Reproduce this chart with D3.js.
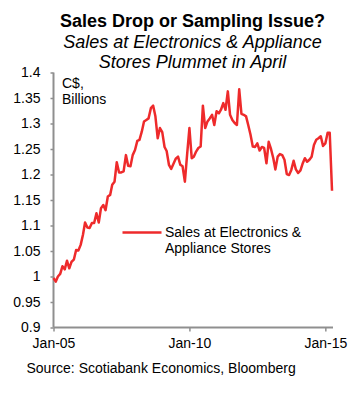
<!DOCTYPE html>
<html lang="en">
<head>
    <meta charset="UTF-8">
    <title>Sales at Electronics & Appliance Stores</title>
    <script src="https://d3js.org/d3.v7.min.js"></script>
    <style>
        body{
            margin: 0;
            background-color: #fff;
        }
        text{
            font-family: "Liberation Sans", Arial, sans-serif;
            fill: #000;
        }
    </style>
</head>
<body>
<script>
    // monthly values, C$ billions, starting Jan-05
    const startYear = 2005;
    const sales = [
        0.997, 0.990, 1.000, 1.005, 1.020, 1.014, 1.031, 1.016, 1.029, 1.033, 1.052, 1.051,
        1.062, 1.082, 1.106, 1.096, 1.095, 1.105, 1.105, 1.124, 1.106, 1.134, 1.140, 1.130,
        1.157, 1.160, 1.180, 1.186, 1.224, 1.204, 1.204, 1.206, 1.238, 1.217, 1.216, 1.238,
        1.248, 1.266, 1.268, 1.284, 1.304, 1.307, 1.310, 1.330, 1.335, 1.314, 1.271, 1.291,
        1.283, 1.254, 1.246, 1.219, 1.211, 1.221, 1.231, 1.235, 1.219, 1.216, 1.186, 1.239,
        1.291, 1.232, 1.235, 1.245, 1.252, 1.255, 1.335, 1.291, 1.304, 1.310, 1.317, 1.297,
        1.324, 1.320, 1.327, 1.340, 1.327, 1.363, 1.317, 1.307, 1.301, 1.297, 1.367, 1.319,
        1.317, 1.314, 1.297, 1.278, 1.255, 1.254, 1.261, 1.247, 1.254, 1.252, 1.222, 1.264,
        1.250, 1.232, 1.210, 1.235, 1.240, 1.238, 1.229, 1.201, 1.199, 1.209, 1.227, 1.210,
        1.203, 1.208, 1.221, 1.232, 1.225, 1.229, 1.235, 1.258, 1.268, 1.271, 1.275, 1.256,
        1.261, 1.282, 1.282, 1.168
    ];
    const yTicks = [0.9, 0.95, 1, 1.05, 1.1, 1.15, 1.2, 1.25, 1.3, 1.35, 1.4];
    const xTickYears = [2005, 2010, 2015];
    const titleLines = ["Sales Drop or Sampling Issue?"];
    const subtitleLines = ["Sales at Electronics & Appliance", "Stores Plummet in April"];
    const unitLines = ["C$,", "Billions"];
    const legendLines = ["Sales at Electronics &", "Appliance Stores"];
    const sourceText = "Source: Scotiabank Economics, Bloomberg";

    const width = 361;
    const height = 401;
    const plotLeft = 53.5, plotRight = 333, plotTop = 72.5, plotBottom = 327.5;
    const red = "#ee2a2b";
    const grey = "#8f8f8f";

    const data = sales.map((v, i) => ({ date: new Date(startYear, i, 1), value: v }));

    const svg = d3.select("body")
        .append("svg")
        .attr("width", width)
        .attr("height", height);

    const x = d3.scaleTime()
        .domain([new Date(2005, 0, 1), new Date(2015, 3, 14)])
        .range([plotLeft, plotRight]);

    const y = d3.scaleLinear()
        .domain([0.9, 1.4])
        .range([plotBottom, plotTop]);

    // titles
    svg.selectAll(".title")
        .data(titleLines)
        .enter().append("text")
        .attr("x", 192.5)
        .attr("y", (d, i) => 27 + i * 20.5)
        .attr("text-anchor", "middle")
        .style("font-size", "18px")
        .style("font-weight", "bold")
        .text(d => d);

    svg.selectAll(".subtitle")
        .data(subtitleLines)
        .enter().append("text")
        .attr("x", 192.5)
        .attr("y", (d, i) => 47.5 + i * 20.5)
        .attr("text-anchor", "middle")
        .style("font-size", "18px")
        .style("font-style", "italic")
        .text(d => d);

    // y axis
    const yAxis = svg.append("g")
        .attr("transform", `translate(${plotLeft},0)`)
        .call(d3.axisLeft(y).tickValues(yTicks).tickSize(3).tickPadding(10)
            .tickFormat(d => d3.format("")(+d.toFixed(2))));
    yAxis.select(".domain").attr("stroke", grey).attr("stroke-width", 2)
        .attr("d", `M0,${plotTop}V${plotBottom}`);
    yAxis.selectAll(".tick line").attr("stroke", grey).attr("stroke-width", 1.5);
    yAxis.selectAll(".tick text").style("font-size", "14px").attr("fill", "#000");

    // x axis
    const xAxis = svg.append("g")
        .attr("transform", `translate(0,${plotBottom})`)
        .call(d3.axisBottom(x)
            .tickValues(xTickYears.map(yr => new Date(yr, 0, 1)))
            .tickSize(4).tickPadding(7)
            .tickFormat(d3.timeFormat("%b-%y")));
    xAxis.select(".domain").attr("stroke", grey).attr("stroke-width", 2)
        .attr("d", `M${plotLeft},0H${plotRight}`);
    xAxis.selectAll(".tick line").attr("stroke", grey).attr("stroke-width", 1.5);
    xAxis.selectAll(".tick text").style("font-size", "14px").attr("fill", "#000");

    // unit label
    svg.selectAll(".unit")
        .data(unitLines)
        .enter().append("text")
        .attr("x", 62)
        .attr("y", (d, i) => 87.5 + i * 16)
        .style("font-size", "14px")
        .text(d => d);

    // line
    const line = d3.line()
        .x(d => x(d.date))
        .y(d => y(d.value));

    svg.append("path")
        .datum(data)
        .attr("fill", "none")
        .attr("stroke", red)
        .attr("stroke-width", 2.5)
        .attr("stroke-linejoin", "round")
        .attr("d", line);

    // legend
    svg.append("line")
        .attr("x1", 122.5).attr("x2", 161.5)
        .attr("y1", 232.5).attr("y2", 232.5)
        .attr("stroke", red)
        .attr("stroke-width", 2.5);

    svg.selectAll(".legend")
        .data(legendLines)
        .enter().append("text")
        .attr("x", 165)
        .attr("y", (d, i) => 237 + i * 16)
        .style("font-size", "14px")
        .text(d => d);

    // source
    svg.append("text")
        .attr("x", 26.5)
        .attr("y", 372.5)
        .style("font-size", "14px")
        .text(sourceText);
</script>
</body>
</html>
